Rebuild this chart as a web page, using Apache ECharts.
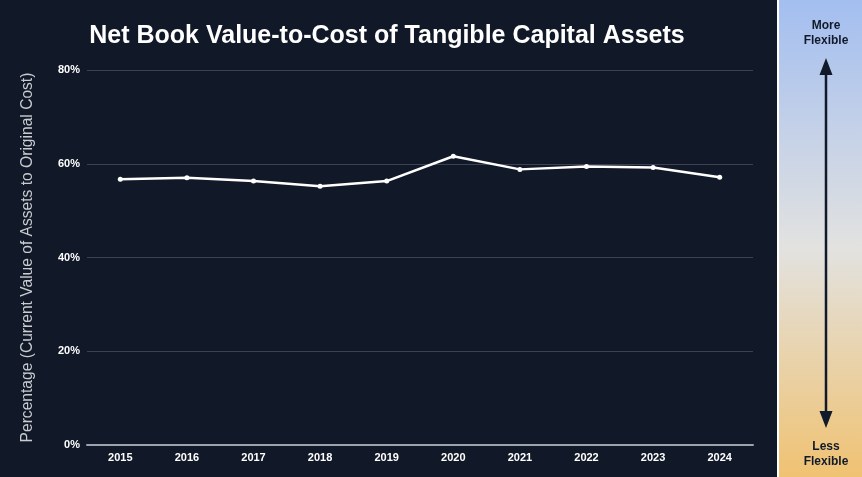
<!DOCTYPE html>
<html>
<head>
<meta charset="utf-8">
<script src="https://cdn.jsdelivr.net/npm/echarts@6/dist/echarts.min.js"></script>
<style>
html,body{margin:0;padding:0;background:#111827;}
#chart{width:862px;height:477px;}
</style>
</head>
<body>
<div id="chart"></div>
<script>
const categories = ['2015','2016','2017','2018','2019','2020','2021','2022','2023','2024'];
const values = [56.7, 57.0, 56.3, 55.2, 56.3, 61.6, 58.8, 59.4, 59.2, 57.1];
const yTicks = [0, 20, 40, 60, 80];
const titleText = 'Net Book Value-to-Cost of Tangible Capital Assets';
const yAxisName = 'Percentage (Current Value of Assets to Original Cost)';

const chart = echarts.init(document.getElementById('chart'));
const ink = '#111a2b';
const ff = 'Liberation Sans, Arial, sans-serif';
chart.setOption({
  backgroundColor: '#111827',
  animation: false,
  title: {
    text: titleText,
    left: 382, top: 19, textAlign: 'center',
    textStyle: { color: '#ffffff', fontSize: 25, fontWeight: 'bold', fontFamily: ff }
  },
  grid: { left: 87, right: 109, top: 70, bottom: 32 },
  xAxis: {
    type: 'category',
    data: categories,
    boundaryGap: true,
    axisLine: { lineStyle: { color: '#9ca3af', width: 2 } },
    axisTick: { show: false },
    axisLabel: { color: '#ffffff', fontWeight: 'bold', fontSize: 11, margin: 7, fontFamily: ff }
  },
  yAxis: {
    type: 'value',
    min: yTicks[0], max: yTicks[yTicks.length - 1], interval: 20,
    name: yAxisName,
    nameLocation: 'middle',
    nameGap: 51,
    nameTextStyle: { color: '#c9ccd1', fontSize: 15.6, fontFamily: ff },
    axisLine: { show: false },
    axisTick: { show: false },
    axisLabel: { color: '#ffffff', fontWeight: 'bold', fontSize: 11, margin: 7, formatter: '{value}%', fontFamily: ff },
    splitLine: { lineStyle: { color: '#3b4251', width: 1 } }
  },
  series: [{
    type: 'line',
    data: values,
    symbol: 'circle',
    symbolSize: 5,
    lineStyle: { color: '#ffffff', width: 2.5 },
    itemStyle: { color: '#ffffff' }
  }],
  graphic: [
    { type: 'rect', shape: { x: 777, y: 0, width: 2, height: 477 }, style: { fill: '#ffffff' } },
    { type: 'rect', shape: { x: 779, y: 0, width: 83, height: 477 },
      style: { fill: new echarts.graphic.LinearGradient(0, 0, 0, 1, [
        { offset: 0, color: '#a3bef0' },
        { offset: 0.52, color: '#e2e2e0' },
        { offset: 1, color: '#f0c272' }
      ]) } },
    { type: 'line', shape: { x1: 826, y1: 70, x2: 826, y2: 416 }, style: { stroke: ink, lineWidth: 2.5 } },
    { type: 'polygon', shape: { points: [[826, 58], [819.5, 75], [832.5, 75]] }, style: { fill: ink } },
    { type: 'polygon', shape: { points: [[826, 428], [819.5, 411], [832.5, 411]] }, style: { fill: ink } },
    { type: 'text', style: { text: 'More', x: 826, y: 25.5, align: 'center', verticalAlign: 'middle', fill: ink, font: 'bold 12px ' + ff } },
    { type: 'text', style: { text: 'Flexible', x: 826, y: 41, align: 'center', verticalAlign: 'middle', fill: ink, font: 'bold 12px ' + ff } },
    { type: 'text', style: { text: 'Less', x: 826, y: 446.5, align: 'center', verticalAlign: 'middle', fill: ink, font: 'bold 12px ' + ff } },
    { type: 'text', style: { text: 'Flexible', x: 826, y: 461.5, align: 'center', verticalAlign: 'middle', fill: ink, font: 'bold 12px ' + ff } }
  ]
});
</script>
</body>
</html>
